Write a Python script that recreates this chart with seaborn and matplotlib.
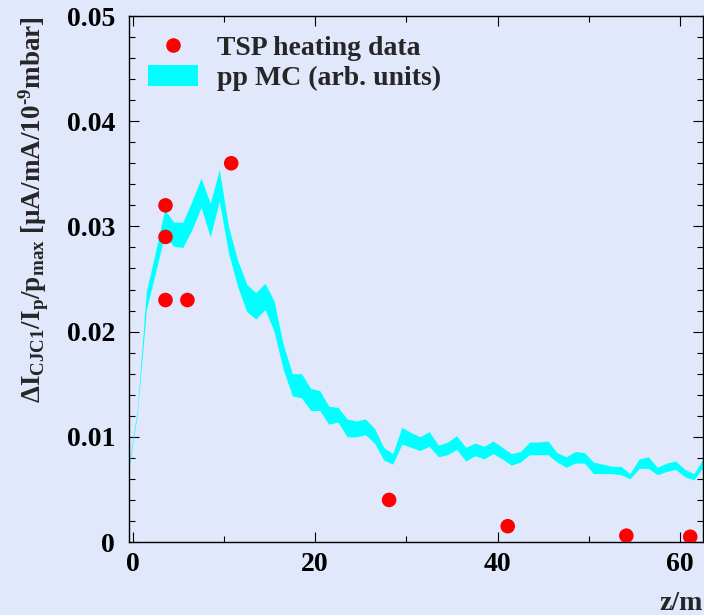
import matplotlib
matplotlib.use("Agg")
import matplotlib.pyplot as plt
from matplotlib.lines import Line2D
from matplotlib.patches import Patch
from matplotlib.ticker import MultipleLocator, FuncFormatter
import seaborn as sns
import pandas as pd

# TSP heating measurements
z_tsp = [3.6, 3.6, 3.6, 6.0, 10.8, 28.1, 41.1, 54.1, 61.1]
i_tsp = [0.032, 0.029, 0.023, 0.023, 0.036, 0.0040, 0.0015, 0.0006, 0.0005]

# pp Monte Carlo band (bin centres, upper and lower edge)
z_mc = [-0.5, 0.5, 1.5, 2.5, 3.5, 4.5, 5.5, 6.5, 7.5, 8.5, 9.5, 10.5, 11.5,
        12.5, 13.5, 14.5, 15.5, 16.5, 17.5, 18.5, 19.5, 20.5, 21.5, 22.5,
        23.5, 24.5, 25.5, 26.5, 27.5, 28.5, 29.5, 30.5, 31.5, 32.5, 33.5,
        34.5, 35.5, 36.5, 37.5, 38.5, 39.5, 40.5, 41.5, 42.5, 43.5, 44.5,
        45.5, 46.5, 47.5, 48.5, 49.5, 50.5, 51.5, 52.5, 53.5, 54.5, 55.5,
        56.5, 57.5, 58.5, 59.5, 60.5, 61.5, 62.5]
mc_hi = [0.0069, 0.0125, 0.0238, 0.0276, 0.0316, 0.0304, 0.0304, 0.0324,
         0.0346, 0.0322, 0.0354, 0.0300, 0.0268, 0.0245, 0.0237, 0.0246,
         0.0229, 0.0188, 0.0160, 0.0160, 0.0146, 0.0144, 0.0129, 0.0128,
         0.0117, 0.0115, 0.0117, 0.0108, 0.0090, 0.0084, 0.0109, 0.0104,
         0.0100, 0.0105, 0.0092, 0.0095, 0.0101, 0.0090, 0.0094, 0.0091,
         0.0096, 0.0090, 0.0084, 0.0086, 0.0095, 0.0095, 0.0096, 0.0085,
         0.0081, 0.0086, 0.0085, 0.0076, 0.0074, 0.0072, 0.0072, 0.0065,
         0.0079, 0.0081, 0.0071, 0.0075, 0.0077, 0.0069, 0.0065, 0.0079]
mc_lo = [0.0065, 0.0121, 0.0221, 0.0256, 0.0292, 0.0281, 0.0280, 0.0297,
         0.0318, 0.0290, 0.0324, 0.0275, 0.0243, 0.0219, 0.0212, 0.0221,
         0.0200, 0.0164, 0.0139, 0.0137, 0.0125, 0.0125, 0.0112, 0.0114,
         0.0100, 0.0100, 0.0102, 0.0094, 0.0078, 0.0074, 0.0093, 0.0090,
         0.0087, 0.0091, 0.0081, 0.0083, 0.0088, 0.0077, 0.0082, 0.0079,
         0.0084, 0.0079, 0.0073, 0.0076, 0.0083, 0.0083, 0.0083, 0.0076,
         0.0071, 0.0075, 0.0075, 0.0065, 0.0065, 0.0065, 0.0064, 0.0060,
         0.0070, 0.0070, 0.0064, 0.0067, 0.0069, 0.0062, 0.0059, 0.0071]

label_data = "TSP heating data"
label_mc = "pp MC (arb. units)"
x_title = "z/m"
y_title = (r"ΔI$_{\rm CJC1}$/I$_{\rm p}$/p$_{\rm max}$ "
           r"[μA/mA/10$^{\text{-9}}$mbar]")

bg = "#E1E8FB"
fs = 20
sns.set_theme(style="ticks")
plt.rcParams["font.family"] = ["Liberation Serif", "DejaVu Serif"]
plt.rcParams["font.weight"] = "bold"
plt.rcParams["mathtext.fontset"] = "custom"
plt.rcParams["mathtext.rm"] = "Liberation Serif:bold"
plt.rcParams["mathtext.it"] = "Liberation Serif:bold"
plt.rcParams["mathtext.bf"] = "Liberation Serif:bold"

df_tsp = pd.DataFrame({"z": z_tsp, "i": i_tsp})

fig = plt.figure(figsize=(7.04, 6.15), dpi=100, facecolor=bg)
ax = fig.add_axes([129 / 704, 1 - 542 / 615, (703 - 129) / 704, (542 - 16) / 615])
ax.set_facecolor(bg)

ax.fill_between(z_mc, mc_lo, mc_hi, color="#00FFFF", linewidth=0, zorder=2)
sns.scatterplot(data=df_tsp, x="z", y="i", color="#FF0000", s=110,
                edgecolor="none", ax=ax, zorder=3, legend=False)

ax.set_xlim(-0.4, 62.5)
ax.set_ylim(0, 0.05)

ax.xaxis.set_major_locator(MultipleLocator(20))
ax.xaxis.set_minor_locator(MultipleLocator(10))
ax.yaxis.set_major_locator(MultipleLocator(0.01))
ax.yaxis.set_minor_locator(MultipleLocator(0.002))
ax.yaxis.set_major_formatter(FuncFormatter(lambda v, p: "0" if abs(v) < 1e-9 else f"{v:.2f}"))
ax.xaxis.set_major_formatter(FuncFormatter(lambda v, p: f"{v:.0f}"))

ax.tick_params(which="both", direction="in", top=True, right=True,
               colors="black", width=0.8)
ax.tick_params(which="major", length=7, labelsize=fs, pad=7)
ax.tick_params(axis="y", which="major", pad=10)
ax.tick_params(which="minor", length=4)
for sp in ax.spines.values():
    sp.set_visible(True)
    sp.set_linewidth(1.0)
    sp.set_color("black")

for lab in ax.get_xticklabels() + ax.get_yticklabels():
    lab.set_fontweight("bold")

ax.set_xlabel(x_title, loc="right", fontsize=fs, fontweight="bold", labelpad=10)
ax.set_ylabel(y_title, loc="top", fontsize=19.5, fontweight="bold", labelpad=11)

handles = [
    Line2D([0], [0], marker="o", linestyle="none", markersize=10.5,
           markerfacecolor="#FF0000", markeredgecolor="none"),
    Patch(facecolor="#00FFFF", edgecolor="none"),
]
ax.legend(handles, [label_data, label_mc], loc="upper left",
          bbox_to_anchor=(0.033, 0.963), frameon=False,
          prop={"family": "Liberation Serif", "weight": "bold", "size": fs},
          borderpad=0, borderaxespad=0, handlelength=1.8, handleheight=0.75,
          handletextpad=0.7, labelspacing=0.15)

fig.savefig("out.png", dpi=100, facecolor=bg)
